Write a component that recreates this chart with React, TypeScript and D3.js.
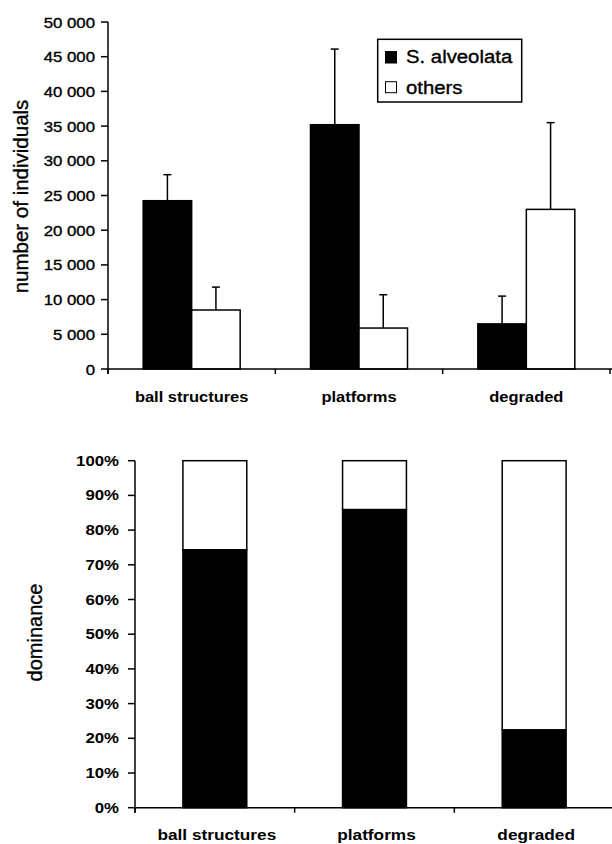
import React from "react";
import * as d3 from "d3";

const categories = ["ball structures", "platforms", "degraded"];
const seriesNames = ["S. alveolata", "others"];
const alveolataMean = [24250, 35200, 6500];
const alveolataErr = [28000, 46100, 10500];
const othersMean = [8500, 5900, 23000];
const othersErr = [11800, 10700, 35500];
const topTicks = [0, 5000, 10000, 15000, 20000, 25000, 30000, 35000, 40000, 45000, 50000];
const dominanceAlveolata = [0.743, 0.859, 0.224];
const bottomTicks = [0, 0.1, 0.2, 0.3, 0.4, 0.5, 0.6, 0.7, 0.8, 0.9, 1.0];

const FONT = "'Liberation Sans', Arial, Helvetica, sans-serif";

const fmtThousands = (v: number) => {
  if (v === 0) return "0";
  const s = String(v);
  return s.slice(0, s.length - 3) + " " + s.slice(s.length - 3);
};

export default function App() {
  // Top chart scales
  const yTop = d3.scaleLinear().domain([0, 50000]).range([369, 22]);
  const xTop = d3.scaleBand<string>().domain(categories).range([108, 610]).padding(0);
  const bwTop = xTop.bandwidth();
  const groupW = 97;
  const xInner = d3
    .scaleBand<string>()
    .domain(seriesNames)
    .range([(bwTop - groupW) / 2, (bwTop + groupW) / 2])
    .padding(0);

  const topData = categories.map((c, i) => ({
    cat: c,
    values: [
      { s: seriesNames[0], mean: alveolataMean[i], err: alveolataErr[i], fill: "#000" },
      { s: seriesNames[1], mean: othersMean[i], err: othersErr[i], fill: "#fff" },
    ],
  }));

  // Bottom chart scales
  const yBot = d3.scaleLinear().domain([0, 1]).range([807.7, 460.7]);
  const xBot = d3.scaleBand<string>().domain(categories).range([135, 614]).padding(0);
  const bwBot = xBot.bandwidth();
  const barWBot = bwBot * 0.4;
  const pct = d3.format(".0%");

  const catBoundsTop = [...categories.map((c) => xTop(c)!), 610];
  const catBoundsBot = [...categories.map((c) => xBot(c)!), 614];

  const heavy = { stroke: "#000", strokeWidth: 0.35 };

  return (
    <svg width={612} height={844} style={{ position: "absolute", left: 0, top: 0, background: "#fff" }}>
      <rect x={0} y={0} width={612} height={844} fill="#fff" />
      {/* ===== TOP CHART ===== */}
      <g>
        {topData.map((d) => (
          <g key={d.cat} transform={`translate(${xTop(d.cat)},0)`}>
            {d.values.map((v) => {
              const x = xInner(v.s)!;
              const w = xInner.bandwidth();
              const cx = x + w / 2;
              return (
                <g key={v.s}>
                  <line x1={cx} x2={cx} y1={yTop(v.mean)} y2={yTop(v.err)} stroke="#000" strokeWidth={1.5} />
                  <line x1={cx - 4} x2={cx + 4} y1={yTop(v.err)} y2={yTop(v.err)} stroke="#000" strokeWidth={1.5} />
                  <rect
                    x={x}
                    y={yTop(v.mean)}
                    width={w}
                    height={yTop(0) - yTop(v.mean)}
                    fill={v.fill}
                    stroke="#000"
                    strokeWidth={1.5}
                  />
                </g>
              );
            })}
          </g>
        ))}
        {/* y axis */}
        <line x1={108} x2={108} y1={yTop(50000)} y2={yTop(0) + 5} stroke="#000" strokeWidth={1.5} />
        {topTicks.map((t) => (
          <g key={t}>
            <line x1={101} x2={108} y1={yTop(t)} y2={yTop(t)} stroke="#000" strokeWidth={1.5} />
            <text
              transform={`translate(95,${yTop(t) + 5.5}) scale(1.12,1)`}
              textAnchor="end"
              fontFamily={FONT}
              fontSize={15}
              fill="#000"
              {...heavy}
            >
              {fmtThousands(t)}
            </text>
          </g>
        ))}
        {/* x axis */}
        <line x1={108} x2={612} y1={yTop(0)} y2={yTop(0)} stroke="#000" strokeWidth={1.5} />
        {catBoundsTop.map((b, i) => (
          <line key={i} x1={b} x2={b} y1={yTop(0)} y2={yTop(0) + 5} stroke="#000" strokeWidth={1.5} />
        ))}
        {categories.map((c) => (
          <text
            key={c}
            transform={`translate(${xTop(c)! + bwTop / 2},401.5) scale(1.1,1)`}
            textAnchor="middle"
            fontFamily={FONT}
            fontWeight="bold"
            fontSize={15}
            fill="#000"
          >
            {c}
          </text>
        ))}
        <text
          transform={`translate(28,196.5) rotate(-90)`}
          textAnchor="middle"
          fontFamily={FONT}
          fontSize={20.5}
          fill="#000"
          {...heavy}
        >
          number of individuals
        </text>
        {/* legend */}
        <rect x={377.7} y={39.3} width={144} height={62.7} fill="#fff" stroke="#000" strokeWidth={1.5} />
        <rect x={385.5} y={51.5} width={11} height={11.5} fill="#000" stroke="#000" strokeWidth={1} />
        <text transform="translate(406,62.5) scale(1.13,1)" fontFamily={FONT} fontSize={18} fill="#000" {...heavy}>
          {seriesNames[0]}
        </text>
        <rect x={385.5} y={81.7} width={11} height={11} fill="#fff" stroke="#000" strokeWidth={1} />
        <text transform="translate(406,93.5) scale(1.13,1)" fontFamily={FONT} fontSize={18} fill="#000" {...heavy}>
          {seriesNames[1]}
        </text>
      </g>

      {/* ===== BOTTOM CHART ===== */}
      <g>
        {categories.map((c, i) => {
          const cx = xBot(c)! + bwBot / 2;
          const x = cx - barWBot / 2;
          const v = dominanceAlveolata[i];
          return (
            <g key={c}>
              <rect
                x={x}
                y={yBot(1)}
                width={barWBot}
                height={yBot(v) - yBot(1)}
                fill="#fff"
                stroke="#000"
                strokeWidth={1.5}
              />
              <rect
                x={x}
                y={yBot(v)}
                width={barWBot}
                height={yBot(0) - yBot(v)}
                fill="#000"
                stroke="#000"
                strokeWidth={1.5}
              />
            </g>
          );
        })}
        <line x1={135} x2={135} y1={yBot(1)} y2={yBot(0) + 5} stroke="#000" strokeWidth={1.5} />
        {bottomTicks.map((t) => (
          <g key={t}>
            <line x1={128} x2={135} y1={yBot(t)} y2={yBot(t)} stroke="#000" strokeWidth={1.5} />
            <text
              transform={`translate(119,${yBot(t) + 5}) scale(1.2,1)`}
              textAnchor="end"
              fontFamily={FONT}
              fontWeight="bold"
              fontSize={14}
              fill="#000"
            >
              {pct(t)}
            </text>
          </g>
        ))}
        <line x1={135} x2={612} y1={yBot(0)} y2={yBot(0)} stroke="#000" strokeWidth={1.5} />
        {catBoundsBot.map((b, i) => (
          <line key={i} x1={b} x2={b} y1={yBot(0)} y2={yBot(0) + 5} stroke="#000" strokeWidth={1.5} />
        ))}
        {categories.map((c) => (
          <text
            key={c}
            transform={`translate(${xBot(c)! + bwBot / 2 + 2},839.5) scale(1.15,1)`}
            textAnchor="middle"
            fontFamily={FONT}
            fontWeight="bold"
            fontSize={15}
            fill="#000"
          >
            {c}
          </text>
        ))}
        <text
          transform={`translate(41.5,632.5) rotate(-90)`}
          textAnchor="middle"
          fontFamily={FONT}
          fontSize={20}
          fill="#000"
          {...heavy}
        >
          dominance
        </text>
      </g>
    </svg>
  );
}
